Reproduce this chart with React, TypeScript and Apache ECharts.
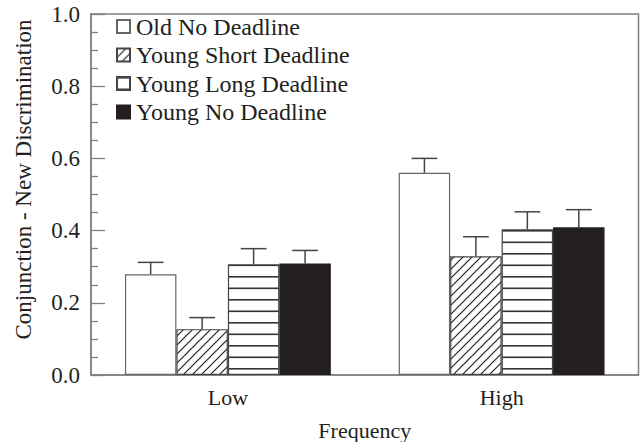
import React, { useEffect, useRef } from "react";
import * as echarts from "echarts";

const categories = ["Low", "High"];
const seriesNames = ["Old No Deadline", "Young Short Deadline", "Young Long Deadline", "Young No Deadline"];
const oldNoDeadline = [0.279, 0.56];
const youngShortDeadline = [0.127, 0.329];
const youngLongDeadline = [0.307, 0.404];
const youngNoDeadline = [0.309, 0.409];
const oldNoDeadlineUpper = [0.312, 0.6];
const youngShortDeadlineUpper = [0.159, 0.383];
const youngLongDeadlineUpper = [0.35, 0.452];
const youngNoDeadlineUpper = [0.345, 0.458];
const yTicks = [0, 0.2, 0.4, 0.6, 0.8, 1.0];

const CAT_GAP = 0.248;
const FONT = "Liberation Serif";

function makeHatch(): HTMLCanvasElement {
  const c = document.createElement("canvas");
  c.width = 9;
  c.height = 9;
  const ctx = c.getContext("2d")!;
  ctx.fillStyle = "#ffffff";
  ctx.fillRect(0, 0, 9, 9);
  ctx.strokeStyle = "#222222";
  ctx.lineWidth = 1.2;
  ctx.beginPath();
  ctx.moveTo(-1, 10);
  ctx.lineTo(10, -1);
  ctx.moveTo(-2, 2);
  ctx.lineTo(2, -2);
  ctx.moveTo(7, 11);
  ctx.lineTo(11, 7);
  ctx.stroke();
  return c;
}

function makeHLines(): HTMLCanvasElement {
  const c = document.createElement("canvas");
  c.width = 4;
  c.height = 23;
  const ctx = c.getContext("2d")!;
  ctx.fillStyle = "#ffffff";
  ctx.fillRect(0, 0, 4, 23);
  ctx.fillStyle = "#333333";
  ctx.fillRect(0, 0, 4, 1.6);
  ctx.fillRect(0, 11.5, 4, 1.6);
  return c;
}

export default function App() {
  const ref = useRef<HTMLDivElement>(null);
  useEffect(() => {
    if (!ref.current) return;
    const chart = echarts.init(ref.current, undefined, { renderer: "svg" });
    const hatch = makeHatch();
    const hlines = makeHLines();
    const values = [oldNoDeadline, youngShortDeadline, youngLongDeadline, youngNoDeadline];
    const uppers = [oldNoDeadlineUpper, youngShortDeadlineUpper, youngLongDeadlineUpper, youngNoDeadlineUpper];
    const fills: any[] = [
      "#ffffff",
      { image: hatch, repeat: "repeat", imageWidth: 9, imageHeight: 9 },
      { image: hlines, repeat: "repeat", imageWidth: 4, imageHeight: 23 },
      "#231f20",
    ];
    const borders = ["#666666", "#444444", "#444444", "#231f20"];
    const errData: number[][] = [];
    values.forEach((arr, s) => {
      arr.forEach((v, i) => errData.push([i, v, uppers[s][i], s]));
    });
    const barSeries = seriesNames.map((name, s) => ({
      name,
      type: "bar",
      data: values[s],
      barGap: "0%",
      barCategoryGap: (CAT_GAP * 100).toFixed(1) + "%",
      itemStyle: { color: fills[s], borderColor: borders[s], borderWidth: 1.2 },
      emphasis: { disabled: true },
    }));
    chart.setOption({
      animation: false,
      textStyle: { fontFamily: FONT, color: "#231f20" },
      grid: {
        left: 91,
        right: 2.5,
        top: 14,
        bottom: 67,
        show: true,
        outerBoundsMode: "none",
        containLabel: false,
        borderColor: "#808080",
        borderWidth: 1.5,
        backgroundColor: "transparent",
      },
      legend: {
        data: seriesNames,
        orient: "vertical",
        left: 111,
        top: 9.5,
        itemWidth: 13,
        itemHeight: 13,
        itemGap: 4.5,
        icon: "rect",
        textStyle: { fontFamily: FONT, fontSize: 24, color: "#231f20", padding: [0, 0, 0, 1] },
        selectedMode: false,
      },
      xAxis: {
        type: "category",
        data: categories,
        name: "Frequency",
        nameLocation: "middle",
        nameGap: 44,
        nameTextStyle: { fontFamily: FONT, fontSize: 22, color: "#231f20" },
        axisLine: { lineStyle: { color: "#808080", width: 1.5 } },
        axisTick: { show: false },
        axisLabel: { fontFamily: FONT, fontSize: 22, color: "#231f20", margin: 11 },
      },
      yAxis: {
        type: "value",
        min: 0,
        max: 1,
        interval: 0.2,
        name: "Conjunction - New Discrimination",
        nameLocation: "middle",
        nameGap: 56,
        nameTextStyle: { fontFamily: FONT, fontSize: 23, color: "#231f20", padding: [0, 0, 0, 30] },
        axisLine: { show: true, lineStyle: { color: "#808080", width: 1.5 } },
        axisTick: { show: true, inside: true, length: 14, lineStyle: { color: "#808080", width: 1.3 } },
        minorTick: { show: true, splitNumber: 4, length: 7, lineStyle: { color: "#808080", width: 1.3 } },
        splitLine: { show: false },
        axisLabel: {
          fontFamily: FONT,
          fontSize: 23,
          color: "#231f20",
          margin: 11,
          formatter: (v: number) => (yTicks.some((t) => Math.abs(t - v) < 1e-9) ? v.toFixed(1) : ""),
        },
      },
      series: [
        ...barSeries,
        {
          type: "custom",
          silent: true,
          z: 3,
          encode: { x: 0, y: [1, 2] },
          data: errData,
          renderItem: (params: any, api: any) => {
            const cat = api.value(0);
            const val = api.value(1);
            const up = api.value(2);
            const s = api.value(3);
            const band = api.size([1, 0])[0];
            const bw = (band * (1 - CAT_GAP)) / 4;
            const c = api.coord([cat, val]);
            const cu = api.coord([cat, up]);
            const x = c[0] - 2 * bw + (s + 0.5) * bw;
            const style = { stroke: "#444444", lineWidth: 1.5 };
            return {
              type: "group",
              children: [
                { type: "line", shape: { x1: x, y1: c[1], x2: x, y2: cu[1] }, style },
                { type: "line", shape: { x1: x - bw / 4, y1: cu[1], x2: x + bw / 4, y2: cu[1] }, style },
              ],
            };
          },
        },
      ],
    });
    return () => chart.dispose();
  }, []);
  return <div ref={ref} style={{ width: 641, height: 442, position: "absolute", left: 0, top: 0 }} />;
}
